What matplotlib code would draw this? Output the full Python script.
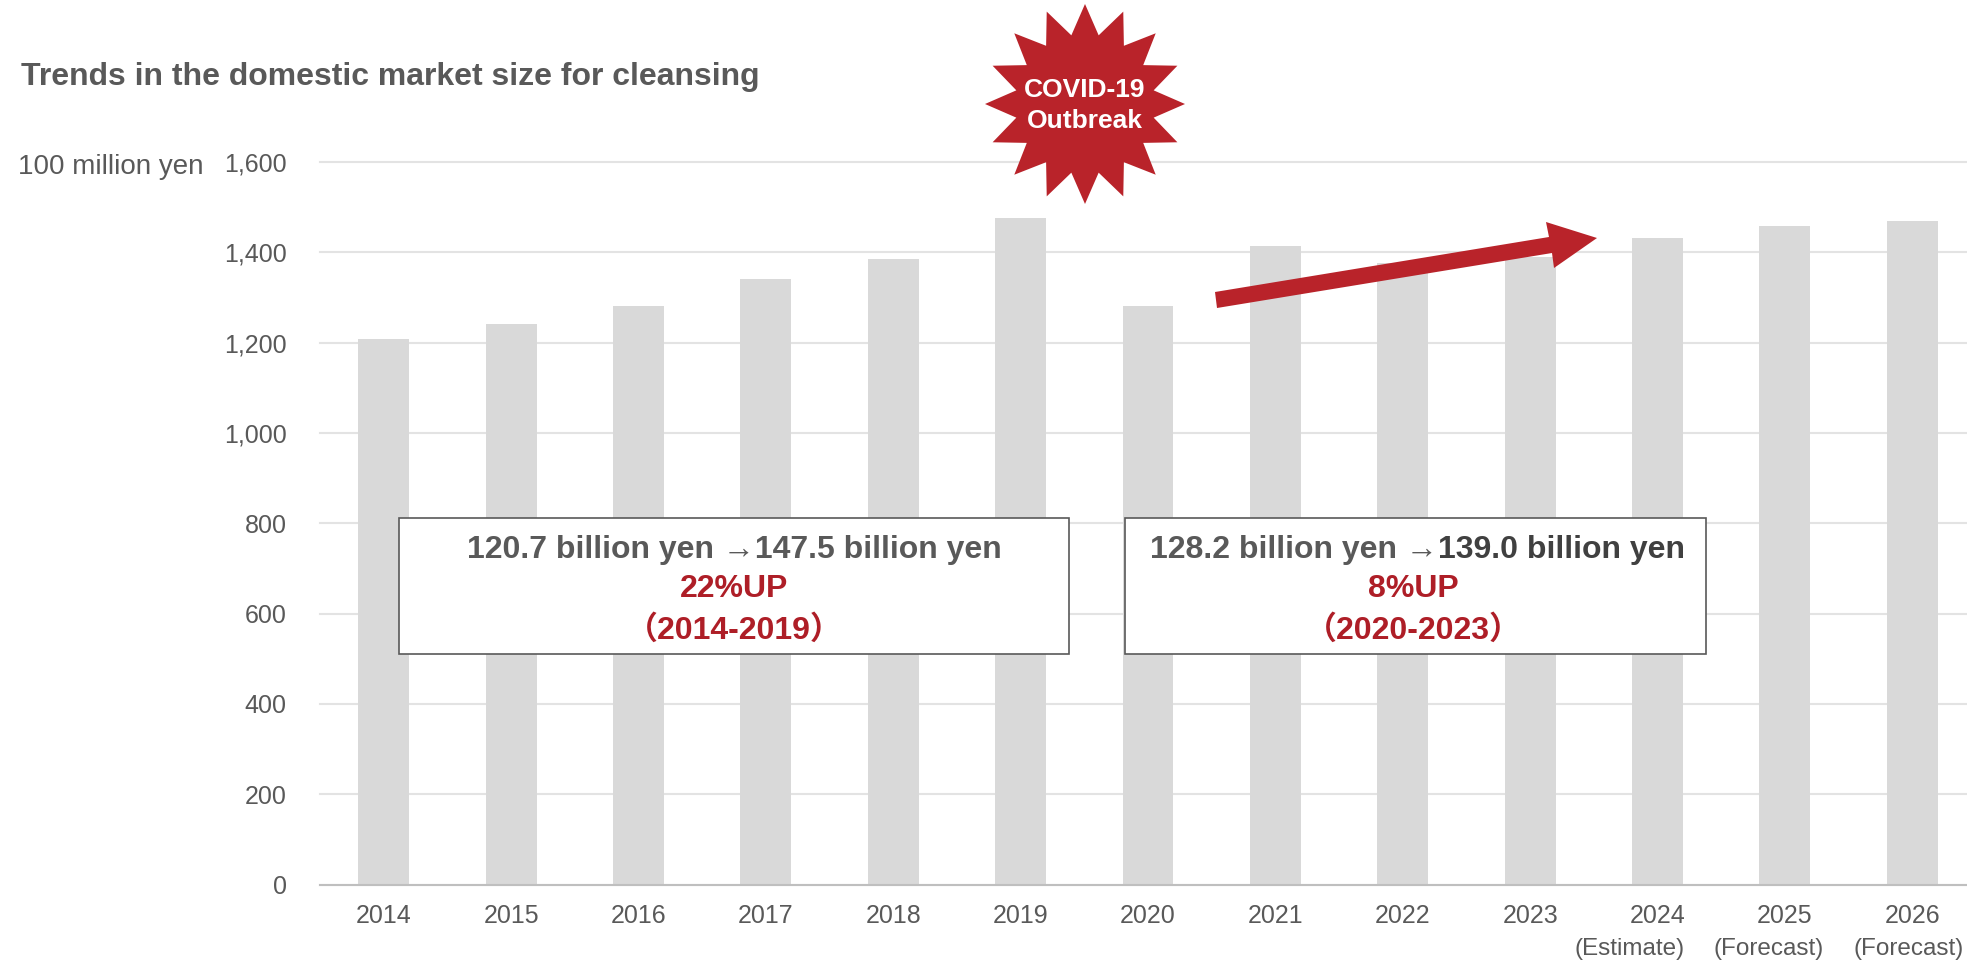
import numpy as np
import matplotlib
matplotlib.use("Agg")
import matplotlib.pyplot as plt
from matplotlib.patches import Rectangle, PathPatch, Polygon
from matplotlib.path import Path
from matplotlib.transforms import Affine2D

years = ["2014", "2015", "2016", "2017", "2018", "2019", "2020",
         "2021", "2022", "2023", "2024", "2025", "2026"]
market_size = [1207, 1242, 1282, 1340, 1385, 1475, 1282,
               1413, 1376, 1390, 1432, 1458, 1470]
y_ticks = [0, 200, 400, 600, 800, 1000, 1200, 1400, 1600]

GREY = "#595959"
DARK = "#404040"
RED = "#B9232A"
TXTRED = "#AE1E27"
FONT = ["Liberation Sans", "Noto Sans CJK JP"]
plt.rcParams["font.family"] = FONT

W, H = 1967, 961
fig = plt.figure(figsize=(W / 100, H / 100), dpi=100)
px = Affine2D().scale(1, -1).translate(0, H)   # reference pixel coordinates

# the plot runs a little past the right edge of the picture
left, right, top, bottom = 320, 1976, 162, 884.5
ax = fig.add_axes([left / W, 1 - bottom / H, (right - left) / W, (bottom - top) / H])

x = np.arange(len(years))
ax.bar(x, market_size, width=0.4, color="#D9D9D9", zorder=2)
ax.set_xlim(-0.5, len(years) - 0.5)
ax.set_ylim(0, 1600)
ax.set_yticks(y_ticks)
ax.set_yticklabels([f"{v:,}" for v in y_ticks])
ax.set_xticks(x)
ax.set_xticklabels(years)
ax.tick_params(axis="both", length=0, labelcolor=GREY)
ax.tick_params(axis="y", labelsize=18, pad=24)
ax.tick_params(axis="x", labelsize=18, pad=14)
ax.grid(axis="y", color="#E3E3E3", lw=1.5, zorder=0, clip_on=False)
ax.set_axisbelow(True)
for s in ("top", "left", "right"):
    ax.spines[s].set_visible(False)
ax.spines["bottom"].set_color("#BFBFBF")
ax.spines["bottom"].set_linewidth(1.5)
ax.spines["bottom"].set_zorder(3)


def T(xp, yp, s, **kw):
    kw.setdefault("va", "center")
    kw.setdefault("ha", "left")
    kw.setdefault("color", GREY)
    kw.setdefault("zorder", 10)
    return fig.text(xp, yp, s, transform=px, **kw)


T(21, 77, "Trends in the domestic market size for cleansing", fontsize=23, fontweight="bold")
T(18, 167, "100 million yen", fontsize=20)

# sub-labels under the last three years
T(1630, 949, "(Estimate)", fontsize=17.5, ha="center")
T(1769, 949, "(Forecast)", fontsize=17.5, ha="center")
T(1909, 949, "(Forecast)", fontsize=17.5, ha="center")

# star burst
star = Path.unit_regular_star(16, innerCircle=0.70)
star_tf = Affine2D().scale(100, 100).translate(1085, 104) + px
fig.add_artist(PathPatch(star, facecolor=RED, edgecolor="none", transform=star_tf, zorder=8))
T(1085, 90, "COVID-19", fontsize=19, fontweight="bold", color="white", ha="center")
T(1085, 121, "Outbreak", fontsize=19, fontweight="bold", color="white", ha="center")

# growth arrow
arrow = [(1215, 292), (1549, 237), (1546, 222), (1597, 238), (1554, 268), (1552, 253), (1217, 308)]
fig.add_artist(Polygon(arrow, closed=True, facecolor=RED, edgecolor="none", transform=px, zorder=8))

# call-out boxes
for (x0, x1) in [(399, 1069), (1125, 1706)]:
    fig.add_artist(Rectangle((x0, 518), x1 - x0, 136, facecolor="white", edgecolor=GREY,
                             lw=1.2, transform=px, zorder=9))

FS = 23
T(734, 550, "120.7 billion yen →147.5 billion yen", fontsize=FS, fontweight="bold", ha="center")
T(734, 589, "22%UP", fontsize=FS, fontweight="bold", ha="center", color=TXTRED)
T(734, 630, "（2014-2019）", fontsize=FS, fontweight="bold", ha="center", color=TXTRED)

T(1438, 550, "128.2 billion yen →", fontsize=FS, fontweight="bold", ha="right")
T(1438, 550, "139.0 billion yen", fontsize=FS, fontweight="bold", ha="left", color=DARK)
T(1413, 589, "8%UP", fontsize=FS, fontweight="bold", ha="center", color=TXTRED)
T(1413, 630, "（2020-2023）", fontsize=FS, fontweight="bold", ha="center", color=TXTRED)

fig.savefig("out.png", dpi=100, facecolor="white")
